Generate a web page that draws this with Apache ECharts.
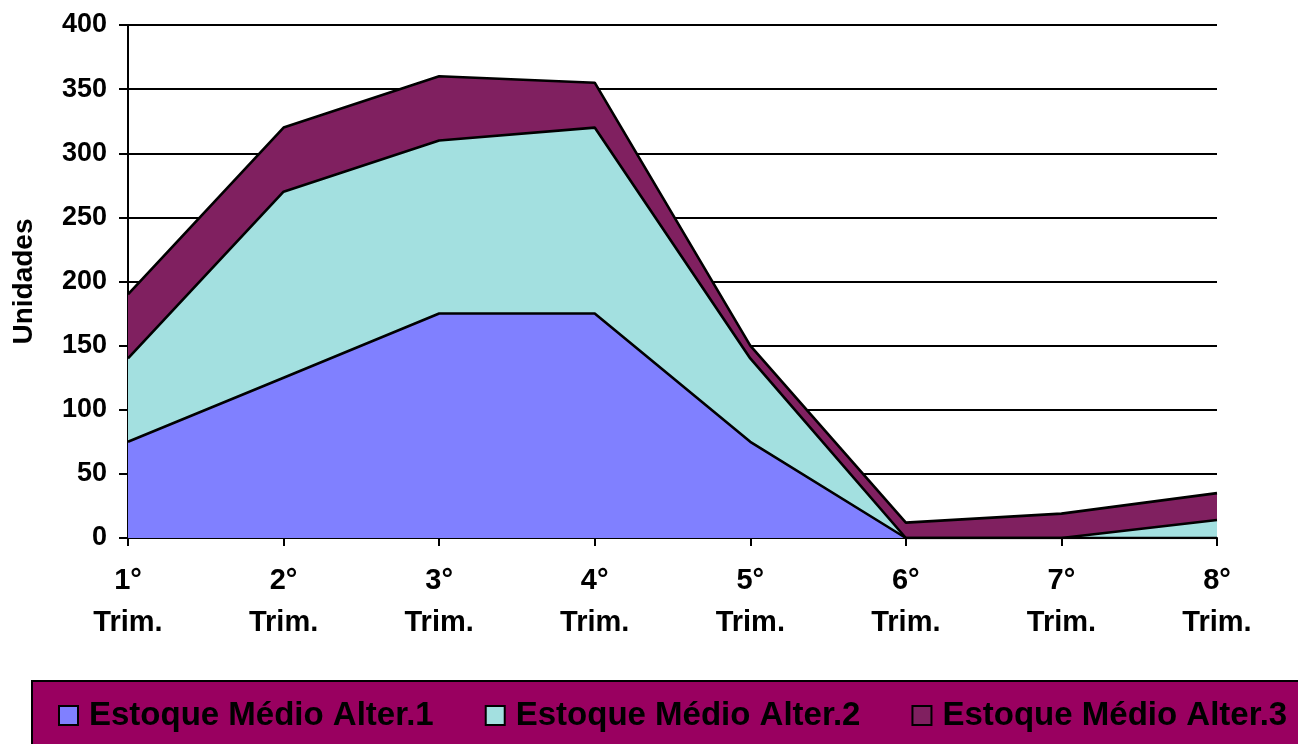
<!DOCTYPE html>
<html>
<head>
<meta charset="utf-8">
<script src="https://cdn.jsdelivr.net/npm/echarts@6/dist/echarts.min.js"></script>
<style>
  html, body { margin: 0; padding: 0; background: #ffffff; }
  #chart { width: 1298px; height: 744px; }
</style>
</head>
<body>
<div id="chart"></div>
<script>
// Quarters on the horizontal axis
const categories = ['1°\nTrim.', '2°\nTrim.', '3°\nTrim.', '4°\nTrim.', '5°\nTrim.', '6°\nTrim.', '7°\nTrim.', '8°\nTrim.'];

// Average stock per alternative (stacked)
const alter1 = [75, 125, 175, 175, 75, 0, 0, 0];
const alter2 = [65, 145, 135, 145, 65, 0, 0, 14];
const alter3 = [50, 50, 50, 35, 10, 12, 19, 21];

const seriesNames = ['Estoque Médio Alter.1', 'Estoque Médio Alter.2', 'Estoque Médio Alter.3'];
const seriesColors = ['#8080ff', '#a3e0e0', '#802060'];
const seriesData = [alter1, alter2, alter3];

const FONT = '"Liberation Sans", Arial, sans-serif';

const chart = echarts.init(document.getElementById('chart'), null, { renderer: 'canvas' });

chart.setOption({
  animation: false,
  backgroundColor: '#ffffff',
  grid: { left: 128, right: 81, top: 25, bottom: 206, containLabel: false, outerBoundsMode: 'none' },
  graphic: [{
    type: 'rect',
    z: 0,
    shape: { x: 32, y: 681, width: 1300, height: 100 },
    style: { fill: '#990060', stroke: '#000000', lineWidth: 2 }
  }],
  legend: {
    left: 58,
    top: 699,
    padding: 0,
    itemGap: 51,
    itemWidth: 19,
    itemHeight: 19,
    icon: 'rect',
    z: 5,
    textStyle: {
      fontFamily: FONT, fontWeight: 'bold', fontSize: 33, color: '#000000',
      padding: [0, 0, 0, 6]
    },
    data: seriesNames.map((n, i) => ({
      name: n,
      itemStyle: { color: seriesColors[i], borderColor: '#000000', borderWidth: 2 }
    }))
  },
  xAxis: {
    type: 'category',
    data: categories,
    boundaryGap: false,
    axisLine: { lineStyle: { color: '#000000', width: 2 } },
    axisTick: { show: true, length: 8, lineStyle: { color: '#000000', width: 2 } },
    axisLabel: {
      margin: 22,
      fontFamily: FONT, fontWeight: 'bold', fontSize: 29, color: '#000000',
      lineHeight: 42, align: 'center'
    },
    splitLine: { show: false }
  },
  yAxis: {
    type: 'value',
    min: 0, max: 400, interval: 50,
    name: 'Unidades',
    nameLocation: 'middle',
    nameRotate: 90,
    nameGap: 90,
    nameTextStyle: { fontFamily: FONT, fontWeight: 'bold', fontSize: 28, color: '#000000' },
    axisLine: { show: true, lineStyle: { color: '#000000', width: 2 } },
    axisTick: { show: true, length: 9, lineStyle: { color: '#000000', width: 2 } },
    axisLabel: {
      margin: 21,
      fontFamily: FONT, fontWeight: 'bold', fontSize: 27, color: '#000000'
    },
    splitLine: { show: true, lineStyle: { color: '#000000', width: 2 } }
  },
  series: seriesData.map((d, i) => ({
    name: seriesNames[i],
    type: 'line',
    stack: 'estoque',
    data: d,
    symbol: 'none',
    color: seriesColors[i],
    lineStyle: { color: '#000000', width: 2.6 },
    areaStyle: { color: seriesColors[i], opacity: 1 },
    z: 2
  }))
});
</script>
</body>
</html>
